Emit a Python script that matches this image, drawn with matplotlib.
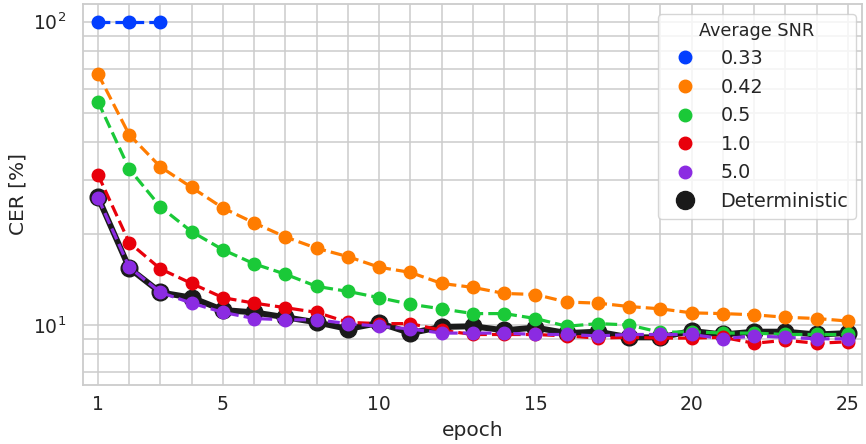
import matplotlib
matplotlib.use("Agg")
import matplotlib.pyplot as plt
from matplotlib.lines import Line2D
import seaborn as sns

sns.set_style("whitegrid")
plt.rcParams['font.family'] = ['DejaVu Sans']

# CER per epoch for each average SNR setting
epochs = list(range(1, 26))
snr_labels = ["0.33", "0.42", "0.5", "1.0", "5.0"]
snr_colors = ["#023eff", "#ff7c00", "#1ac938", "#e8000b", "#8b2be2"]

cer_033 = [100, 100, 100]
cer_042 = [67.3, 42.4, 33.2, 28.4, 24.3, 21.7, 19.5, 17.9, 16.8, 15.5,
           14.9, 13.7, 13.3, 12.7, 12.6, 11.9, 11.8, 11.5, 11.3, 10.96,
           10.9, 10.8, 10.6, 10.5, 10.3]
cer_05 = [54.5, 32.7, 24.5, 20.3, 17.7, 15.9, 14.7, 13.4, 12.9, 12.3,
          11.7, 11.3, 10.9, 10.9, 10.5, 9.9, 10.1, 10.0, 9.45, 9.5,
          9.4, 9.4, 9.3, 9.3, 9.3]
cer_10 = [31.3, 18.7, 15.3, 13.7, 12.3, 11.8, 11.4, 11.0, 10.2, 10.1,
          10.1, 9.6, 9.3, 9.3, 9.3, 9.2, 9.05, 9.1, 9.05, 9.05,
          9.1, 8.7, 8.9, 8.7, 8.8]
cer_50 = [26.3, 15.5, 12.8, 11.8, 11.0, 10.5, 10.4, 10.4, 10.1, 9.9,
          9.7, 9.4, 9.4, 9.4, 9.3, 9.3, 9.2, 9.3, 9.3, 9.3,
          9.0, 9.2, 9.1, 9.0, 9.0]
cer_det = [26.4, 15.4, 12.8, 12.3, 11.2, 11.0, 10.6, 10.2, 9.7, 10.15,
           9.4, 9.85, 9.9, 9.6, 9.8, 9.4, 9.5, 9.1, 9.1, 9.55,
           9.3, 9.5, 9.5, 9.3, 9.4]
snr_series = [cer_033, cer_042, cer_05, cer_10, cer_50]

fig = plt.figure(figsize=(8.66, 4.44), dpi=100)
ax = fig.add_axes([0.0958, 0.133, 0.8996, 0.858])

ax.plot(epochs[:len(cer_det)], cer_det, color="#1a1a1a", lw=4.3, ls="-",
        marker="o", ms=12, zorder=2)
for vals, col in zip(snr_series, snr_colors):
    ax.plot(epochs[:len(vals)], vals, color=col, lw=2.3, ls="--",
            marker="o", ms=9, zorder=3)

ax.set_yscale("log")
ax.set_ylim(6.34, 114.4)
ax.set_xlim(0.52, 25.45)
ax.set_xticks(epochs)
ax.set_xticklabels([str(e) if e in (1, 5, 10, 15, 20, 25) else "" for e in epochs])
ax.grid(True, which="both", color="#cccccc", lw=1.1)
ax.tick_params(axis="both", which="both", length=0, labelsize=13.5, colors="#262626")
ax.tick_params(axis="x", pad=7.5)
ax.tick_params(axis="y", pad=12)
for s in ax.spines.values():
    s.set_color("#cccccc")
    s.set_linewidth(1.3)

ax.set_xlabel("epoch", fontsize=14.5, color="#262626", labelpad=5)
ax.set_ylabel("CER [%]", fontsize=14.5, color="#262626", labelpad=4)

handles = [Line2D([], [], ls="none", marker="o", ms=9, color=c) for c in snr_colors]
handles.append(Line2D([], [], ls="none", marker="o", ms=13, color="#1a1a1a"))
leg = ax.legend(handles, snr_labels + ["Deterministic"], title="Average SNR",
                loc="upper right", fontsize=13.8, title_fontsize=12.7,
                borderpad=0.4, labelspacing=0.5, handletextpad=0.85,
                borderaxespad=0, framealpha=0.8,
                bbox_to_anchor=(0.9923, 0.974))
for t in leg.get_texts():
    t.set_color("#262626")
leg.get_title().set_color("#262626")

fig.savefig("out.png", dpi=100)
